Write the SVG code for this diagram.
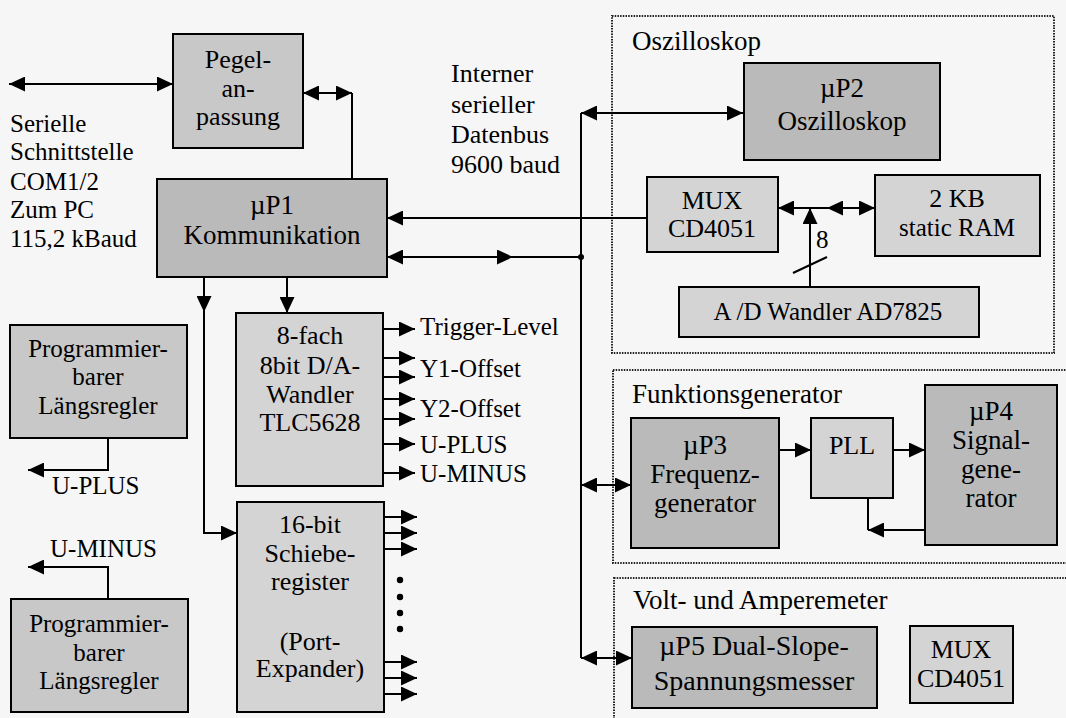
<svg xmlns="http://www.w3.org/2000/svg" width="1066" height="718" viewBox="0 0 1066 718" font-family="Liberation Serif, Times New Roman, serif">
<defs>
<marker id="ah" viewBox="0 0 16 15" refX="16" refY="7.5" markerWidth="16" markerHeight="15" markerUnits="userSpaceOnUse" orient="auto-start-reverse">
<path d="M0,0 L16,7.5 L0,15 z" fill="#000"/>
</marker>
</defs>
<style>
text{font-family:"Liberation Serif","Times New Roman",serif;font-size:26px;fill:#000}
.c{text-anchor:middle}
.s{font-size:25px}
.b{stroke:#000;stroke-width:2}
.dk{fill:#bababa}
.md{fill:#c8c8c8}
.lt{fill:#d4d4d4}
.grp{fill:none;stroke:#222;stroke-width:2;stroke-dasharray:1.5 1.2}
.w{fill:none;stroke:#000;stroke-width:2}
.a2{marker-start:url(#ah);marker-end:url(#ah)}
.a1{marker-end:url(#ah)}
</style>
<rect width="1066" height="718" fill="#f6f6f6"/>

<g id="groups">
<rect class="grp" x="612" y="16" width="442" height="337"/>
<rect class="grp" x="613" y="370" width="460" height="193"/>
<rect class="grp" x="614" y="578" width="460" height="160"/>
<text x="632" y="50" style="font-size:27px">Oszilloskop</text>
<text x="632" y="403" style="font-size:27px">Funktionsgenerator</text>
<text x="633" y="609" style="font-size:27px">Volt- und Amperemeter</text>
</g>

<g id="labels">
<text class="s" x="10" y="132">Serielle</text>
<text class="s" x="10" y="160">Schnittstelle</text>
<text class="s" x="10" y="190">COM1/2</text>
<text class="s" x="10" y="218">Zum PC</text>
<text class="s" x="10" y="247">115,2 kBaud</text>
<text x="451" y="82">Interner</text>
<text x="451" y="113">serieller</text>
<text x="451" y="143">Datenbus</text>
<text x="451" y="173">9600 baud</text>
<text class="s" x="420" y="335">Trigger-Level</text>
<text class="s" x="420" y="377">Y1-Offset</text>
<text class="s" x="420" y="417">Y2-Offset</text>
<text class="s" x="420" y="453">U-PLUS</text>
<text class="s" x="420" y="482">U-MINUS</text>
<text class="s" x="52" y="494">U-PLUS</text>
<text class="s" x="50" y="557">U-MINUS</text>
<text class="s" x="816" y="248">8</text>
</g>

<g id="pegel">
<rect class="b md" x="173" y="34" width="130" height="114"/>
<text class="c" x="238" y="68">Pegel-</text>
<text class="c" x="238" y="97">an-</text>
<text class="c" x="238" y="125">passung</text>
</g>

<g id="up1">
<rect class="b dk" x="157" y="179" width="230" height="98"/>
<text class="c" x="272" y="214" style="font-size:27px">µP1</text>
<text class="c" x="272" y="244" style="font-size:27px">Kommunikation</text>
</g>

<g id="dac">
<rect class="b lt" x="236" y="313" width="147" height="173"/>
<text class="c" x="310" y="344">8-fach</text>
<text class="c" x="310" y="374">8bit D/A-</text>
<text class="c" x="310" y="403">Wandler</text>
<text class="c" x="310" y="431">TLC5628</text>
</g>

<g id="regler1">
<rect class="b md" x="10" y="325" width="177" height="113"/>
<text class="c s" x="98" y="357">Programmier-</text>
<text class="c s" x="98" y="385">barer</text>
<text class="c s" x="98" y="414">Längsregler</text>
</g>

<g id="regler2">
<rect class="b md" x="11" y="599" width="177" height="113"/>
<text class="c s" x="99" y="632">Programmier-</text>
<text class="c s" x="99" y="661">barer</text>
<text class="c s" x="99" y="689">Längsregler</text>
</g>

<g id="schiebe">
<rect class="b lt" x="237" y="502" width="147" height="210"/>
<text class="c" x="310" y="533">16-bit</text>
<text class="c" x="310" y="562">Schiebe-</text>
<text class="c" x="310" y="590">register</text>
<text class="c" x="310" y="650">(Port-</text>
<text class="c" x="310" y="677">Expander)</text>
</g>

<g id="up2">
<rect class="b dk" x="744" y="63" width="196" height="97"/>
<text class="c" x="842" y="97" style="font-size:27px">µP2</text>
<text class="c" x="842" y="130" style="font-size:27px">Oszilloskop</text>
</g>

<g id="mux1">
<rect class="b lt" x="647" y="177" width="131" height="75"/>
<text class="c" x="712" y="209">MUX</text>
<text class="c" x="712" y="237">CD4051</text>
</g>

<g id="ram">
<rect class="b lt" x="875" y="175" width="165" height="81"/>
<text class="c" x="957" y="207">2 KB</text>
<text class="c" x="957" y="236" style="font-size:25px">static RAM</text>
</g>

<g id="adc">
<rect class="b lt" x="679" y="287" width="300" height="50"/>
<text class="c s" x="828" y="320">A /D Wandler AD7825</text>
</g>

<g id="up3">
<rect class="b dk" x="631" y="418" width="148" height="130"/>
<text class="c" x="705" y="454" style="font-size:27px">µP3</text>
<text class="c" x="705" y="483" style="font-size:27px">Frequenz-</text>
<text class="c" x="705" y="512" style="font-size:27px">generator</text>
</g>

<g id="pll">
<rect class="b lt" x="811" y="418" width="82" height="80"/>
<text class="c" x="852" y="454">PLL</text>
</g>

<g id="up4">
<rect class="b dk" x="925" y="385" width="132" height="160"/>
<text class="c" x="991" y="420" style="font-size:27px">µP4</text>
<text class="c" x="991" y="449" style="font-size:27px">Signal-</text>
<text class="c" x="991" y="478" style="font-size:27px">gene-</text>
<text class="c" x="991" y="507" style="font-size:27px">rator</text>
</g>

<g id="up5">
<rect class="b dk" x="632" y="627" width="245" height="81"/>
<text class="c" x="754" y="655" style="font-size:28px">µP5 Dual-Slope-</text>
<text class="c" x="754" y="690" style="font-size:28px">Spannungsmesser</text>
</g>

<g id="mux2">
<rect class="b lt" x="910" y="626" width="103" height="77"/>
<text class="c" x="961" y="658">MUX</text>
<text class="c" x="961" y="687">CD4051</text>
</g>

<g id="connectors">
<path class="w a2" d="M9,84 L173,84"/>
<path class="w a2" d="M303,93 L352,93"/>
<path class="w" d="M352,93 L352,179"/>
<path class="w a1" d="M204,277 L204,312"/>
<path class="w a1" d="M204,312 L204,533 L237,533"/>
<path class="w a1" d="M287,277 L287,313"/>
<path class="w a1" d="M383,329 L415,329"/>
<path class="w a1" d="M383,358 L415,358"/>
<path class="w a1" d="M383,377 L415,377"/>
<path class="w a1" d="M383,399 L415,399"/>
<path class="w a1" d="M383,419 L415,419"/>
<path class="w a1" d="M383,444 L415,444"/>
<path class="w a1" d="M383,473 L415,473"/>
<path class="w a1" d="M384,517 L417,517"/>
<path class="w a1" d="M384,533 L417,533"/>
<path class="w a1" d="M384,549 L417,549"/>
<path class="w a1" d="M384,662 L417,662"/>
<path class="w a1" d="M384,678 L417,678"/>
<path class="w a1" d="M384,694 L417,694"/>
<circle cx="400" cy="580" r="3.2"/>
<circle cx="400" cy="597" r="3.2"/>
<circle cx="400" cy="613" r="3.2"/>
<circle cx="400" cy="629" r="3.2"/>
<path class="w a1" d="M108,438 L108,470 L28,470"/>
<path class="w a1" d="M108,599 L108,567 L28,567"/>
<path class="w a1" d="M647,218 L387,218"/>
<path class="w a2" d="M387,257 L513,257"/>
<path class="w" d="M513,257 L581,257"/>
<circle cx="581" cy="257" r="3"/>
<path class="w" d="M581,113 L581,658"/>
<path class="w a2" d="M581,113 L743,113"/>
<path class="w a2" d="M581,485 L631,485"/>
<path class="w a2" d="M581,658 L632,658"/>
<path class="w a1" d="M810,208 L778,208"/>
<path class="w a2" d="M827,208 L875,208"/>
<path class="w" d="M810,208 L827,208"/>
<path class="w a1" d="M810,287 L810,208"/>
<path class="w" d="M793,273 L827,257"/>
<path class="w a1" d="M779,450 L811,450"/>
<path class="w a1" d="M893,450 L925,450"/>
<path class="w a1" d="M925,530 L868,530"/>
<path class="w" d="M868,530 L868,498"/>
</g>
</svg>
